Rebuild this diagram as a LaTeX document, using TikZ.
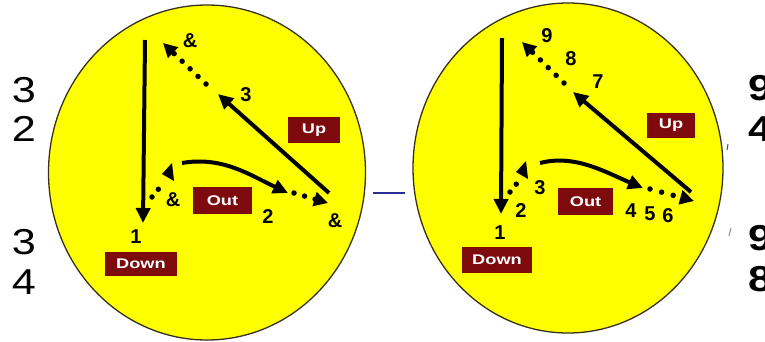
\documentclass[tikz,border=0pt]{standalone}
\usepackage{fontspec}
\setmainfont{Liberation Sans}
\usetikzlibrary{arrows.meta,shapes.geometric}
\definecolor{discyellow}{RGB}{255,255,0}
\definecolor{discedge}{RGB}{55,50,25}
\definecolor{boxred}{RGB}{125,10,12}
\definecolor{linkblue}{RGB}{45,45,150}
\begin{document}
\begin{tikzpicture}[x=1pt,y=-1pt,
  disc/.style={ellipse, draw=discedge, line width=1.3pt, fill=discyellow, inner sep=0pt},
  lbl/.style={font=\fontsize{20}{20}\selectfont\bfseries, inner sep=0pt},
  leftnum/.style={font=\fontsize{36}{36}\selectfont, inner sep=0pt},
  rightnum/.style={font=\fontsize{36}{36}\selectfont\bfseries, inner sep=0pt, anchor=west},
  tag/.style={fill=boxred, text=white, inner sep=0pt, font=\fontsize{14}{14}\selectfont\bfseries},
  solidarrow/.style={line width=4pt, -{Triangle[length=15pt,width=14pt]}},
  dotarrow/.style={line width=5.5pt, line cap=round, dash pattern=on 0pt off 11pt, -{Triangle[length=14pt,width=14pt]}},
  dotline/.style={line width=5.5pt, line cap=round, dash pattern=on 0pt off 10pt},
  tick/.style={line width=1pt, draw=black!70}
]
\path[use as bounding box] (0,0) rectangle (765,341);
\clip (0,0) rectangle (765,341);

% discs
\node[disc, minimum width=317pt, minimum height=335pt] (discL) at (207,172.5) {};
\node[disc, minimum width=310pt, minimum height=330pt] (discR) at (568,168) {};

% link between discs
\coordinate (linkA) at (373,193);
\coordinate (linkB) at (405,193);
\draw[linkblue, line width=1.6pt] (linkA) -- (linkB);

% side numbers
\node[leftnum] (ln1) at (24,90) {\scalebox{1.2}[1]{3}};
\node[leftnum] (ln2) at (24,129) {\scalebox{1.2}[1]{2}};
\node[leftnum] (ln3) at (24,242) {\scalebox{1.2}[1]{3}};
\node[leftnum] (ln4) at (24,282) {\scalebox{1.2}[1]{4}};
\node[rightnum] (rn1) at (748,88) {\scalebox{1.2}[1]{9}};
\node[rightnum] (rn2) at (748,129) {\scalebox{1.2}[1]{4}};
\node[rightnum] (rn3) at (748,238) {\scalebox{1.2}[1]{9}};
\node[rightnum] (rn4) at (748,279) {\scalebox{1.2}[1]{8}};
\coordinate (tk1a) at (728,144); \coordinate (tk1b) at (727,150);
\coordinate (tk2a) at (731,228); \coordinate (tk2b) at (729,236);
\draw[tick] (tk1a) -- (tk1b);
\draw[tick, draw=black!45] (tk2a) -- (tk2b);

% ---------- left disc ----------
\node[tag, minimum width=72pt, minimum height=24pt] (downL) at (141,264) {\scalebox{1.3}[1]{Down}};
\node[tag, minimum width=59pt, minimum height=27pt] (outL) at (222.5,200.5) {\scalebox{1.3}[1]{Out}};
\node[tag, minimum width=52pt, minimum height=26pt] (upL) at (314,130) {\scalebox{1.3}[1]{Up}};

\coordinate (dLa) at (145,40);
\coordinate (dLb) at (143,223);
\draw[solidarrow] (dLa) -- (dLb);

\coordinate (oLa) at (152,197);
\coordinate (oLb) at (161,186);
\draw[dotline] (oLa) -- (oLb);
\coordinate (oLtip) at (162,174);
\fill (oLtip) -- ++(10,-11) -- ++(2,18) -- cycle;

\coordinate (cLa) at (182,163);
\coordinate (cLb) at (288,193);
\draw[solidarrow] (cLa) .. controls (222,156) and (250,175) .. (cLb);

\coordinate (eLa) at (294,193);
\coordinate (eLb) at (328,203);
\draw[dotarrow] (eLa) -- (eLb);

\coordinate (uLa) at (329,193);
\coordinate (uLb) at (218,94);
\draw[solidarrow] (uLa) -- (uLb);

\coordinate (tLa) at (206,84);
\coordinate (tLb) at (163,43);
\draw[dotarrow] (tLa) -- (tLb);

\node[lbl] (L1) at (136,237) {1};
\node[lbl] (Lamp1) at (173,200) {\&};
\node[lbl] (L2) at (268,217) {2};
\node[lbl] (Lamp2) at (335,221) {\&};
\node[lbl] (L3) at (246,95) {3};
\node[lbl] (Lamp3) at (190,41) {\&};

% ---------- right disc ----------
\node[tag, minimum width=70pt, minimum height=26pt] (downR) at (497,260) {\scalebox{1.3}[1]{Down}};
\node[tag, minimum width=55pt, minimum height=27pt] (outR) at (585.5,201.5) {\scalebox{1.3}[1]{Out}};
\node[tag, minimum width=48pt, minimum height=25pt] (upR) at (671,125.5) {\scalebox{1.3}[1]{Up}};

\coordinate (dRa) at (502,38);
\coordinate (dRb) at (501,214);
\draw[solidarrow] (dRa) -- (dRb);

\coordinate (oRa) at (510,192);
\coordinate (oRb) at (518,182);
\draw[dotline] (oRa) -- (oRb);
\coordinate (oRtip) at (516,172);
\fill (oRtip) -- ++(10,-11) -- ++(2,18) -- cycle;

\coordinate (cRa) at (540,163);
\coordinate (cRb) at (643,188);
\draw[solidarrow] (cRa) .. controls (575,154) and (605,172) .. (cRb);

\coordinate (eRa) at (650,189);
\coordinate (eRb) at (694,201);
\draw[dotarrow, dash pattern=on 0pt off 12pt] (eRa) -- (eRb);

\coordinate (uRa) at (691,192);
\coordinate (uRb) at (573,92);
\draw[solidarrow] (uRa) -- (uRb);

\coordinate (tRa) at (564,83);
\coordinate (tRb) at (522,42);
\draw[dotarrow] (tRa) -- (tRb);

\node[lbl] (R1) at (500,233) {1};
\node[lbl] (R2) at (521,211) {2};
\node[lbl] (R3) at (540,188) {3};
\node[lbl] (R4) at (631,211) {4};
\node[lbl] (R5) at (650,214) {5};
\node[lbl] (R6) at (668,216) {6};
\node[lbl] (R7) at (598,82) {7};
\node[lbl] (R8) at (571,59) {8};
\node[lbl] (R9) at (547,36) {9};
\end{tikzpicture}
\end{document}
